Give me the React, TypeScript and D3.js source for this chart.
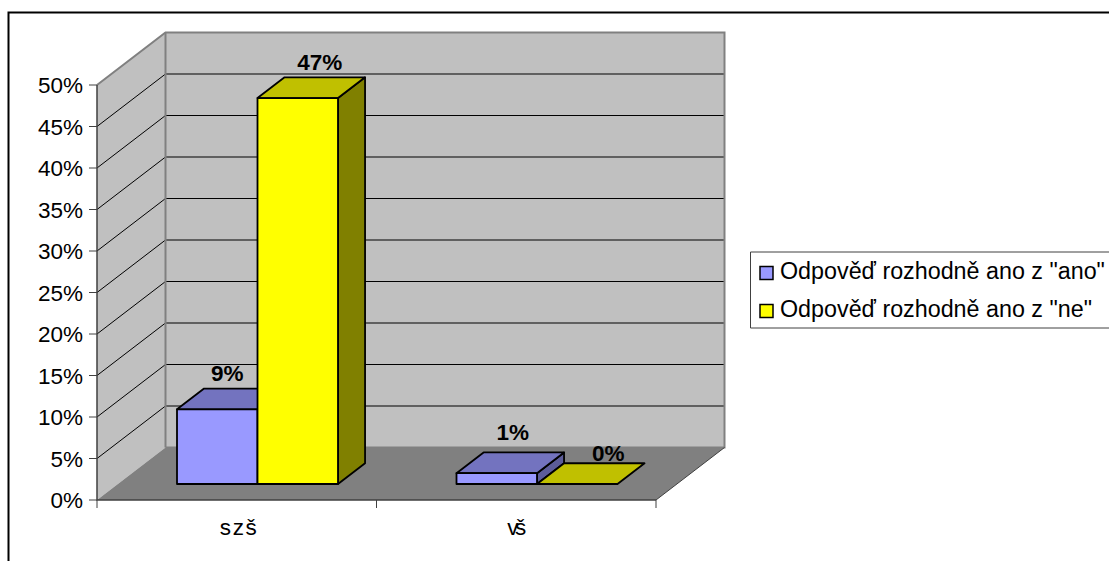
import React from "react";
import * as d3 from "d3";

const categories = ["szš", "vš"];
const seriesNames = ['Odpověď rozhodně ano z "ano"', 'Odpověď rozhodně ano z "ne"'];
const answerYes = [9.0, 1.3];
const answerNo = [46.5, 0];
const yesLabels = ["9%", "1%"];
const noLabels = ["47%", "0%"];
const yTicks = [0, 5, 10, 15, 20, 25, 30, 35, 40, 45, 50];

const W = 1109, H = 561;
const FONT = "'Liberation Sans', Arial, sans-serif";
const DX = 68.5, DY = -52.5;
const x0 = 97, x1 = 656, yBase = 500, yTop = 85;
const D_FRONT = 0.305, D_BACK = 0.7;

const xCat = d3.scaleBand<string>().domain(categories).range([x0, x1]);
const xSeries = d3.scaleBand<number>().domain([0, 1]).range([177 - x0 - DX * D_FRONT, 338 - x0 - DX * D_FRONT]);
const y = d3.scaleLinear().domain([0, 50]).range([yBase, yTop]);

// oblique projection: depth d in 0..1 runs from front plane to back wall
const P = (px: number, py: number, d: number): [number, number] => [px + DX * d, py + DY * d];
const poly = (pts: [number, number][]) => d3.line()(pts)! + "Z";

const seriesStyle = [
  { front: "#9999ff", top: "#7373bf", side: "#5c5c99" },
  { front: "#ffff00", top: "#c0c000", side: "#808000" },
];
const labelShift = [
  [{ dx: 10, dy: -7.5 }, { dx: 16, dy: -12.5 }],
  [{ dx: 22, dy: -7 }, { dx: 31, dy: -2.5 }],
];
const catLabelLength = [37, 19];

function Bar({ cat, s, v }: { cat: string; s: number; v: number }) {
  const xa = xCat(cat)! + xSeries(s)!;
  const xb = xa + xSeries.bandwidth();
  const st = seriesStyle[s];
  const q = (px: number, val: number, d: number) => P(px, y(val), d);
  const stroke = { stroke: "#000", strokeWidth: 1.8, strokeLinejoin: "round" as const };
  return (
    <g>
      {v > 0 && (
        <path
          d={poly([q(xb, 0, D_FRONT), q(xb, 0, D_BACK), q(xb, v, D_BACK), q(xb, v, D_FRONT)])}
          fill={st.side}
          {...stroke}
        />
      )}
      <path
        d={poly([q(xa, v, D_FRONT), q(xb, v, D_FRONT), q(xb, v, D_BACK), q(xa, v, D_BACK)])}
        fill={st.top}
        {...stroke}
      />
      {v > 0 && <path d={poly([q(xa, v, D_FRONT), q(xb, v, D_FRONT), q(xb, 0, D_FRONT), q(xa, 0, D_FRONT)])} fill={st.front} {...stroke} />}
    </g>
  );
}

export default function App() {
  const bars: { cat: string; s: number; v: number; label: string; i: number }[] = [];
  categories.forEach((cat, i) => {
    bars.push({ cat, s: 0, v: answerYes[i], label: yesLabels[i], i });
    bars.push({ cat, s: 1, v: answerNo[i], label: noLabels[i], i });
  });
  return (
    <svg width={W} height={H} style={{ position: "absolute", left: 0, top: 0, background: "#fff" }} fontFamily={FONT}>
      {/* outer frame */}
      <path d={`M8.5 ${H}V12.5H${W}`} fill="none" stroke="#000" strokeWidth={2} />

      {/* walls */}
      <path d={poly([P(x0, y(0), 0), P(x0, y(50), 0), P(x0, y(50), 1), P(x0, y(0), 1)])} fill="#c0c0c0" />
      <path d={poly([P(x0, y(0), 1), P(x0, y(50), 1), P(x1, y(50), 1), P(x1, y(0), 1)])} fill="#c0c0c0" />
      <path d={poly([P(x0, y(0), 0), P(x1, y(0), 0), P(x1, y(0), 1), P(x0, y(0), 1)])} fill="#808080" />

      {/* grid */}
      {yTicks.slice(1, -1).map((t) => (
        <path
          key={t}
          d={d3.line()([P(x0, y(t), 0), P(x0, y(t), 1), P(x1, y(t), 1)])!}
          fill="none"
          stroke="#000"
          strokeWidth={1}
        />
      ))}
      <path
        d={d3.line()([P(x0, y(50), 0), P(x0, y(50), 1), P(x1, y(50), 1), P(x1, y(0), 1), P(x0, y(0), 1)])!}
        fill="none"
        stroke="#808080"
        strokeWidth={2}
      />
      <path d={d3.line()([P(x0, y(0), 1), P(x0, y(50), 1)])!} fill="none" stroke="#808080" strokeWidth={2} />
      <path d={d3.line()([P(x1, y(0), 0), P(x1, y(0), 1)])!} fill="none" stroke="#404040" strokeWidth={1} />

      {/* bars */}
      {bars.map((b) => (
        <Bar key={b.cat + b.s} cat={b.cat} s={b.s} v={b.v} />
      ))}

      {/* axes */}
      <path d={`M${x0} ${yTop}V${yBase}H${x1}`} fill="none" stroke="#404040" strokeWidth={1.5} />
      {yTicks.map((t) => (
        <g key={t}>
          <line x1={x0 - 8} x2={x0} y1={y(t)} y2={y(t)} stroke="#404040" strokeWidth={1} />
          <text x={83} y={y(t) + 8} textAnchor="end" fontSize={22.5} fill="#000">
            {t}%
          </text>
        </g>
      ))}
      {d3.range(categories.length + 1).map((i) => {
        const px = x0 + (i * (x1 - x0)) / categories.length;
        return <line key={i} x1={px} x2={px} y1={yBase} y2={yBase + 8} stroke="#404040" strokeWidth={1} />;
      })}
      {categories.map((c, i) => (
        <text
          key={c}
          x={xCat(c)! + xCat.bandwidth() / 2 + (i === 0 ? 1.5 - catLabelLength[0] / 2 : 0.5 - catLabelLength[1] / 2)}
          y={535}
          fontSize={22.5}
          textLength={catLabelLength[i]}
          lengthAdjust="spacing"
          fill="#000"
        >
          {c}
        </text>
      ))}

      {/* value labels */}
      {bars.map((b) => {
        const xa = xCat(b.cat)! + xSeries(b.s)! + xSeries.bandwidth() / 2;
        const [tx] = P(xa, 0, D_FRONT);
        const [, ty] = P(0, y(b.v), D_BACK);
        const sh = labelShift[b.s][b.i];
        return (
          <text key={b.cat + b.s} x={tx + sh.dx} y={ty + sh.dy} textAnchor="middle" fontSize={22.5} fontWeight="bold" fill="#000">
            {b.label}
          </text>
        );
      })}

      {/* legend */}
      <path d={`M${W} 252H750.5V328H${W}`} fill="#fff" stroke="#404040" strokeWidth={1} />
      {seriesNames.map((n, i) => (
        <g key={n}>
          <rect x={760} y={266.5 + i * 38} width={13} height={13} fill={seriesStyle[i].front} stroke="#000" strokeWidth={1.5} />
          <text x={780} y={279 + i * 38} fontSize={23.3} fill="#000">
            {n}
          </text>
        </g>
      ))}
    </svg>
  );
}
